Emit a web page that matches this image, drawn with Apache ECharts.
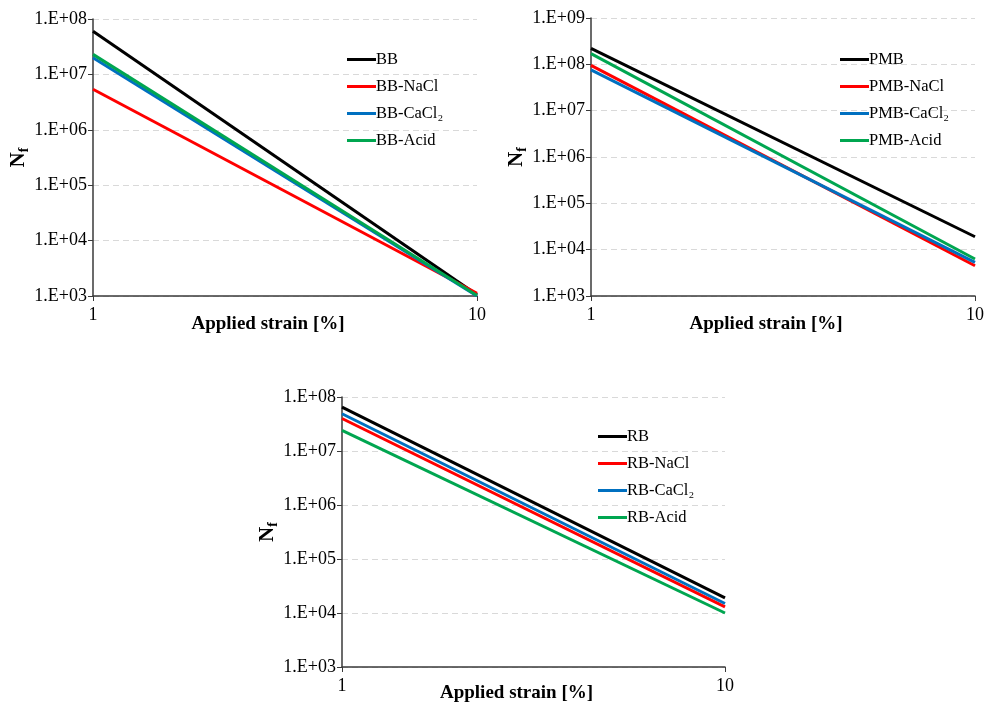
<!DOCTYPE html>
<html>
<head>
<meta charset="utf-8">
<script src="https://cdn.jsdelivr.net/npm/echarts@6/dist/echarts.min.js"></script>
<style>html,body{margin:0;padding:0;background:#fff}#c{width:984px;height:703px}</style>
</head>
<body>
<div id="c"></div>
<script>
// ---- data (x = applied strain %) ----
var strainX = [1, 10];

var bbNames = ['BB', 'BB-NaCl', 'BB-CaCl₂', 'BB-Acid'];
var bbValues = [
  [6.0e7, 1.05e3],
  [5.4e6, 1.12e3],
  [2.0e7, 1.0e3],
  [2.3e7, 1.02e3]
];

var pmbNames = ['PMB', 'PMB-NaCl', 'PMB-CaCl₂', 'PMB-Acid'];
var pmbValues = [
  [2.2e8, 1.9e4],
  [9.5e7, 4.5e3],
  [7.6e7, 5.3e3],
  [1.7e8, 6.3e3]
];

var rbNames = ['RB', 'RB-NaCl', 'RB-CaCl₂', 'RB-Acid'];
var rbValues = [
  [6.5e7, 1.9e4],
  [4.0e7, 1.3e4],
  [4.9e7, 1.5e4],
  [2.4e7, 1.0e4]
];

var yTicksBB = ['1.E+03', '1.E+04', '1.E+05', '1.E+06', '1.E+07', '1.E+08'];
var yTicksPMB = ['1.E+03', '1.E+04', '1.E+05', '1.E+06', '1.E+07', '1.E+08', '1.E+09'];
var yTicksRB = ['1.E+03', '1.E+04', '1.E+05', '1.E+06', '1.E+07', '1.E+08'];
var xTicks = ['1', '10'];

var xTitle = 'Applied strain [%]';
var seriesColors = ['#000000', '#ff0000', '#0070c0', '#00a650'];

// ---- chart ----
var FONT = "'Liberation Serif','Times New Roman',serif";
var chart = echarts.init(document.getElementById('c'), null, {renderer: 'canvas'});

var grids = [
  {left: 93, top: 19, width: 384, height: 277, outerBoundsMode: 'none', containLabel: false},
  {left: 591, top: 18, width: 384, height: 278, outerBoundsMode: 'none', containLabel: false},
  {left: 342, top: 397, width: 383, height: 270, outerBoundsMode: 'none', containLabel: false}
];
var titleGaps = [19, 19, 17];
var tickSets = [yTicksBB, yTicksPMB, yTicksRB];
var nameSets = [bbNames, pmbNames, rbNames];
var valueSets = [bbValues, pmbValues, rbValues];
var legendPos = [{left: 347, top: 51}, {left: 840, top: 51}, {left: 598, top: 428}];

var xAxes = [], yAxes = [], series = [], legends = [];
for (var g = 0; g < 3; g++) {
  (function (g) {
    var ticks = tickSets[g];
    xAxes.push({
      gridIndex: g, type: 'log', logBase: 10, min: 1, max: 10,
      axisLine: {lineStyle: {color: '#3a3a3a', width: 1.5}},
      axisTick: {show: true, length: 5, lineStyle: {color: '#3a3a3a'}},
      splitLine: {show: false},
      minorTick: {show: false},
      axisLabel: {
        color: '#000', fontFamily: FONT, fontSize: 18, margin: 10,
        formatter: function (v) { var i = Math.round(Math.log10(v)); return xTicks[i] || ''; }
      },
      name: xTitle, nameLocation: 'middle', nameGap: titleGaps[g], nameMoveOverlap: false,
      nameTextStyle: {color: '#000', fontFamily: FONT, fontSize: 19, fontWeight: 'bold', padding: [0, 34, 0, 0]}
    });
    yAxes.push({
      gridIndex: g, type: 'log', logBase: 10,
      min: 1e3, max: Math.pow(10, 2 + ticks.length),
      axisLine: {show: true, lineStyle: {color: '#3a3a3a', width: 1.5}},
      axisTick: {show: true, length: 5, lineStyle: {color: '#3a3a3a'}},
      splitLine: {show: true, lineStyle: {color: '#d9d9d9', type: [6, 4], width: 1}},
      axisLabel: {
        color: '#000', fontFamily: FONT, fontSize: 18, margin: 6,
        formatter: function (v) { var i = Math.round(Math.log10(v)) - 3; return ticks[i] || ''; }
      },
      name: '{n|N}{f|f}', nameLocation: 'middle', nameGap: 62, nameRotate: 90, nameMoveOverlap: false,
      nameTextStyle: {
        rich: {
          n: {fontFamily: FONT, fontSize: 21, fontWeight: 'bold', color: '#000', lineHeight: 24},
          f: {fontFamily: FONT, fontSize: 14, fontWeight: 'bold', color: '#000', lineHeight: 12, verticalAlign: 'bottom'}
        }
      }
    });
    var names = nameSets[g], vals = valueSets[g];
    for (var s = 0; s < names.length; s++) {
      series.push({
        name: names[s], type: 'line', xAxisIndex: g, yAxisIndex: g,
        data: strainX.map(function (x, k) { return [x, vals[s][k]]; }),
        showSymbol: false, symbol: 'none', silent: true,
        lineStyle: {color: seriesColors[s], width: 3},
        itemStyle: {color: seriesColors[s]}
      });
    }
    legends.push({
      orient: 'vertical', left: legendPos[g].left, top: legendPos[g].top,
      data: names, icon: 'rect', itemWidth: 29, itemHeight: 3, itemGap: 10,
      padding: 0, selectedMode: false,
      textStyle: {color: '#000', fontFamily: FONT, fontSize: 16.5, lineHeight: 16, padding: [0, 0, 0, -5]}
    });
  })(g);
}

chart.setOption({
  animation: false,
  backgroundColor: '#ffffff',
  grid: grids,
  xAxis: xAxes,
  yAxis: yAxes,
  legend: legends,
  series: series
});
</script>
</body>
</html>
